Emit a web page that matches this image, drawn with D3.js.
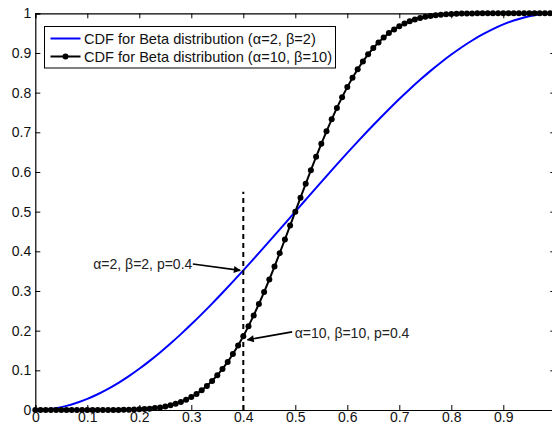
<!DOCTYPE html>
<html>
<head>
<meta charset="utf-8">
<script src="https://cdn.jsdelivr.net/npm/d3@7"></script>
<style>
  html, body { margin: 0; padding: 0; background: #fff; }
  svg { display: block; font-family: "Liberation Sans", Arial, Helvetica, sans-serif; }
</style>
</head>
<body>
<svg id="chart" width="552" height="427"></svg>
<script>
// Beta(2,2) CDF sampled every 0.02
const xBlue = d3.range(0, 51).map(i => +(i * 0.02).toFixed(2));
const cdfBeta22 = [
  0, 0.001184, 0.004672, 0.010368, 0.018176, 0.028, 0.039744, 0.053312, 0.068608, 0.085536,
  0.104, 0.123904, 0.145152, 0.167648, 0.191296, 0.216, 0.241664, 0.268192, 0.295488, 0.323456,
  0.352, 0.381024, 0.410432, 0.440128, 0.470016, 0.5, 0.529984, 0.559872, 0.589568, 0.618976,
  0.648, 0.676544, 0.704512, 0.731808, 0.758336, 0.784, 0.808704, 0.832352, 0.854848, 0.876096,
  0.896, 0.914464, 0.931392, 0.946688, 0.960256, 0.972, 0.981824, 0.989632, 0.995328, 0.998816, 1
];

// Beta(10,10) CDF sampled every 0.01 (one marker per sample)
const xBlack = d3.range(0, 101).map(i => +(i * 0.01).toFixed(2));
const cdfBeta1010 = [
  0, 0, 0, 0, 0, 0, 0, 0, 0, 0,
  0, 0.00001, 0.00002, 0.00004, 0.00008, 0.00014, 0.00024, 0.00041, 0.00067, 0.00105,
  0.00158, 0.00234, 0.00338, 0.00477, 0.00659, 0.0089, 0.01189, 0.01563, 0.02024, 0.02585,
  0.03255, 0.04055, 0.04993, 0.06081, 0.07331, 0.08747, 0.10346, 0.1213, 0.14102, 0.16262,
  0.18609, 0.21139, 0.23844, 0.26714, 0.29735, 0.32897, 0.3617, 0.3954, 0.42984, 0.46478,
  0.5, 0.53522, 0.57016, 0.6046, 0.6383, 0.67103, 0.70265, 0.73286, 0.76156, 0.78861,
  0.81391, 0.83738, 0.85898, 0.8787, 0.89654, 0.91253, 0.92669, 0.93919, 0.95007, 0.95945,
  0.96745, 0.97415, 0.97976, 0.98437, 0.98811, 0.9911, 0.99341, 0.99523, 0.99662, 0.99766,
  0.99842, 0.99895, 0.99933, 0.99959, 0.99976, 0.99986, 0.99992, 0.99996, 0.99998, 0.99999,
  1, 1, 1, 1, 1, 1, 1, 1, 1, 1, 1
];

// the x axis ends at 1 just past the right edge, so its last tick is unlabelled
const xTicks = [0, 0.1, 0.2, 0.3, 0.4, 0.5, 0.6, 0.7, 0.8, 0.9, 1];
const xTickLabels = ["0", "0.1", "0.2", "0.3", "0.4", "0.5", "0.6", "0.7", "0.8", "0.9", ""];
const yTicks = [0, 0.1, 0.2, 0.3, 0.4, 0.5, 0.6, 0.7, 0.8, 0.9, 1];
const yTickLabels = ["0", "0.1", "0.2", "0.3", "0.4", "0.5", "0.6", "0.7", "0.8", "0.9", "1"];

const seriesNames = [
  "CDF for Beta distribution (\u03B1=2, \u03B2=2)",
  "CDF for Beta distribution (\u03B1=10, \u03B2=10)"
];

// marker line at p = 0.4 and the two callouts
const pLine = { x: 0.4, yTop: 0.55 };
const callouts = [
  { text: "\u03B1=2, \u03B2=2, p=0.4", tx: 0.302, ty: 0.356, from: [0.303, 0.368], to: [0.394, 0.352], anchor: "end" },
  { text: "\u03B1=10, \u03B2=10, p=0.4", tx: 0.499, ty: 0.181, from: [0.494, 0.197], to: [0.408, 0.177], anchor: "start" }
];

const svg = d3.select("#chart");
const mLeft = 35.3, mRight = 555.3, mTop = 13.3, mBottom = 410;
const x = d3.scaleLinear().domain([0, 1]).range([mLeft, mRight]);
const y = d3.scaleLinear().domain([0, 1]).range([mBottom, mTop]);

const defs = svg.append("defs");
defs.append("clipPath").attr("id", "plotclip")
  .append("rect").attr("x", mLeft - 4).attr("y", mTop - 4)
  .attr("width", mRight - mLeft + 8).attr("height", mBottom - mTop + 8);

const plot = svg.append("g").attr("clip-path", "url(#plotclip)");

// Beta(2,2)
plot.append("path")
  .datum(xBlue.map((d, i) => [d, cdfBeta22[i]]))
  .attr("fill", "none").attr("stroke", "#0000ff").attr("stroke-width", 2)
  .attr("d", d3.line().x(d => x(d[0])).y(d => y(d[1])).curve(d3.curveMonotoneX));

// Beta(10,10)
const blackPts = xBlack.map((d, i) => [d, cdfBeta1010[i]]);
plot.append("path")
  .datum(blackPts)
  .attr("fill", "none").attr("stroke", "#000").attr("stroke-width", 2)
  .attr("d", d3.line().x(d => x(d[0])).y(d => y(d[1])));
plot.selectAll("circle.m").data(blackPts).join("circle")
  .attr("class", "m")
  .attr("cx", d => x(d[0])).attr("cy", d => y(d[1])).attr("r", 3)
  .attr("fill", "#000");

// dashed reference line
svg.append("line")
  .attr("x1", x(pLine.x)).attr("x2", x(pLine.x))
  .attr("y1", y(0)).attr("y2", y(pLine.yTop))
  .attr("stroke", "#000").attr("stroke-width", 2).attr("stroke-dasharray", "5,4");

// callouts with arrows
defs.append("marker")
  .attr("id", "arrowhead").attr("viewBox", "0 0 10 10")
  .attr("refX", 9).attr("refY", 5)
  .attr("markerWidth", 10).attr("markerHeight", 7)
  .attr("markerUnits", "userSpaceOnUse")
  .attr("orient", "auto")
  .append("path").attr("d", "M0,0 L10,5 L0,10 z").attr("fill", "#000");

callouts.forEach(c => {
  svg.append("line")
    .attr("x1", x(c.from[0])).attr("y1", y(c.from[1]))
    .attr("x2", x(c.to[0])).attr("y2", y(c.to[1]))
    .attr("stroke", "#000").attr("stroke-width", 1.6)
    .attr("marker-end", "url(#arrowhead)");
  svg.append("text")
    .attr("x", x(c.tx)).attr("y", y(c.ty))
    .attr("text-anchor", c.anchor)
    .attr("font-size", 14).attr("fill", "#222")
    .text(c.text);
});

// axes (ticks point inward, box on all four sides)
const gx = svg.append("g").attr("transform", `translate(0,${mBottom})`)
  .call(d3.axisBottom(x).tickValues(xTicks).tickFormat(d => xTickLabels[xTicks.indexOf(d)]).tickSize(-5).tickPadding(2));
const gy = svg.append("g").attr("transform", `translate(${mLeft},0)`)
  .call(d3.axisLeft(y).tickValues(yTicks).tickFormat(d => yTickLabels[yTicks.indexOf(d)]).tickSize(-5).tickPadding(4));
const gt = svg.append("g").attr("transform", `translate(0,${mTop})`)
  .call(d3.axisTop(x).tickValues(xTicks).tickFormat("").tickSize(-5));
const gr = svg.append("g").attr("transform", `translate(${mRight},0)`)
  .call(d3.axisRight(y).tickValues(yTicks).tickFormat("").tickSize(-5));

[gx, gy, gt, gr].forEach(g => {
  g.select(".domain").attr("stroke", "#000").attr("stroke-width", 1.2);
  g.selectAll(".tick line").attr("stroke", "#000").attr("stroke-width", 1);
  g.selectAll(".tick text").attr("font-size", 14).attr("fill", "#111")
    .attr("font-family", "'Liberation Sans', Arial, Helvetica, sans-serif");
});
gx.selectAll(".tick text").attr("dy", "0.71em");

// legend
const legend = svg.append("g");
legend.append("rect")
  .attr("x", 44.5).attr("y", 26.5).attr("width", 291).attr("height", 41.5)
  .attr("fill", "#fff").attr("stroke", "#000").attr("stroke-width", 1);
const rowsY = [38.5, 56.5];
const rowColors = ["#0000ff", "#000"];
seriesNames.forEach((name, i) => {
  legend.append("line")
    .attr("x1", 50.5).attr("x2", 80.5).attr("y1", rowsY[i]).attr("y2", rowsY[i])
    .attr("stroke", rowColors[i]).attr("stroke-width", 2);
  if (i === 1) {
    legend.append("circle").attr("cx", 65.5).attr("cy", rowsY[i]).attr("r", 3).attr("fill", "#000");
  }
  legend.append("text")
    .attr("x", 84).attr("y", rowsY[i] + 5)
    .attr("font-size", 14.6).attr("fill", "#111")
    .text(name);
});
</script>
</body>
</html>
